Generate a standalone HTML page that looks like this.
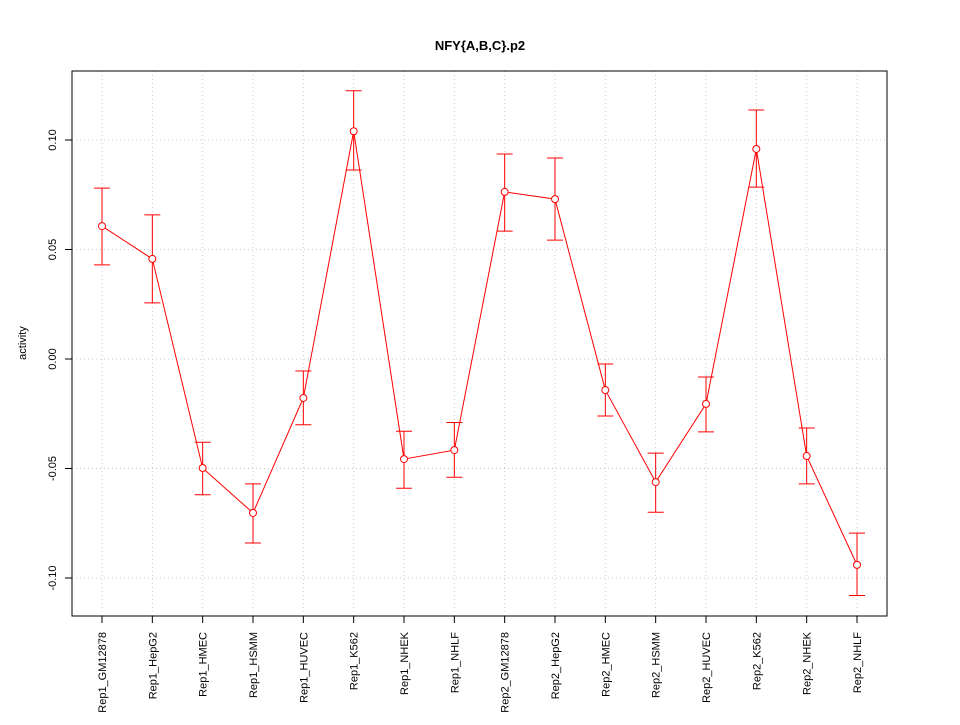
<!DOCTYPE html>
<html><head><meta charset="utf-8"><style>
body{margin:0;background:#fff}
svg text{font-family:"Liberation Sans",sans-serif}
</style></head><body>
<svg id="chart" width="960" height="720" xmlns="http://www.w3.org/2000/svg">
<rect width="960" height="720" fill="#fff"/>
<text x="480" y="50" text-anchor="middle" font-weight="bold" font-size="13">NFY{A,B,C}.p2</text>
<text transform="translate(26,343) rotate(-90)" text-anchor="middle" font-size="11">activity</text>
<g id="grid"></g><g id="axes"></g><g id="marks"></g>
<rect x="72" y="71" width="815" height="545" fill="none" stroke="#000"/>
</svg>
<script>
const categories=["Rep1_GM12878","Rep1_HepG2","Rep1_HMEC","Rep1_HSMM","Rep1_HUVEC","Rep1_K562","Rep1_NHEK","Rep1_NHLF","Rep2_GM12878","Rep2_HepG2","Rep2_HMEC","Rep2_HSMM","Rep2_HUVEC","Rep2_K562","Rep2_NHEK","Rep2_NHLF"];
const values=[0.0607,0.0457,-0.0498,-0.0703,-0.0178,0.104,-0.0457,-0.0416,0.0763,0.073,-0.0142,-0.0562,-0.0205,0.0959,-0.0443,-0.094];
const upper=[0.078,0.0658,-0.038,-0.057,-0.0055,0.1225,-0.033,-0.029,0.0936,0.0918,-0.0023,-0.043,-0.0082,0.1137,-0.0315,-0.0795];
const lower=[0.043,0.0256,-0.062,-0.084,-0.030,0.0863,-0.059,-0.054,0.0584,0.0543,-0.026,-0.070,-0.0333,0.0785,-0.057,-0.108];
const yTicks=[-0.10,-0.05,0.00,0.05,0.10];
const yTickLabels=["-0.10","-0.05","0.00","0.05","0.10"];
const NS="http://www.w3.org/2000/svg";
const xs=i=>102+i*(755/(categories.length-1));
const ys=v=>359-v*2190;
function mk(t,a,p){const e=document.createElementNS(NS,t);for(const k in a)e.setAttribute(k,a[k]);p.appendChild(e);return e;}
const grid=document.getElementById('grid'),axes=document.getElementById('axes'),marks=document.getElementById('marks');
categories.forEach((c,i)=>{
 const x=xs(i);
 const g=mk('line',{x1:x,x2:x,y1:71,y2:616,stroke:'#ccc','stroke-dasharray':'1,3'},grid);
 
 
 const t=mk('line',{x1:x,x2:x,y1:616,y2:623,stroke:'#000'},axes);
 
 
 const l=mk('text',{transform:`translate(${x+4},632) rotate(-90)`,'text-anchor':'end','font-size':'11'},axes);
 l.textContent=c;
 
 
});
yTicks.forEach((v,i)=>{
 const y=ys(v);
 const g=mk('line',{x1:72,x2:887,y1:y,y2:y,stroke:'#ccc','stroke-dasharray':'1,3'},grid);
 
 
 const t=mk('line',{x1:65,x2:72,y1:y,y2:y,stroke:'#000'},axes);
 
 
 const l=mk('text',{transform:`translate(56,${y}) rotate(-90)`,'text-anchor':'middle','font-size':'11'},axes);
 l.textContent=yTickLabels[i];
 
 
});
const pl=mk('polyline',{points:values.map((v,i)=>xs(i)+','+ys(v)).join(' '),fill:'none',stroke:'#f00'},marks);


values.forEach((v,i)=>{
 const x=xs(i);
 const e=mk('path',{d:`M${x},${ys(upper[i])}V${ys(lower[i])}M${x-8},${ys(upper[i])}H${x+8}M${x-8},${ys(lower[i])}H${x+8}`,stroke:'#f00',fill:'none'},marks);
 
 
 const c=mk('circle',{cx:x,cy:ys(v),r:3.5,fill:'#fff',stroke:'#f00'},marks);
 
 
});
</script>
</body></html>
